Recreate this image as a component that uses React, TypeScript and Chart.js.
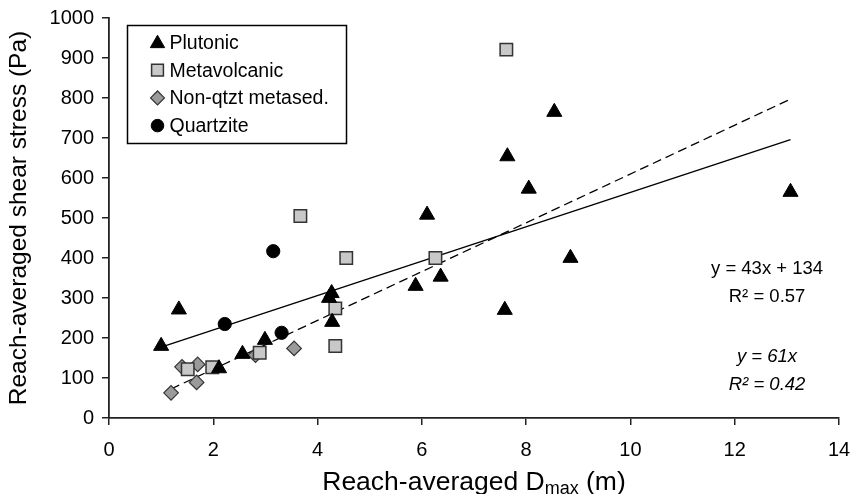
import React, { useEffect, useRef } from 'react';
import { Chart, registerables } from 'chart.js';
import { drawPoint } from 'chart.js/helpers';

Chart.register(...registerables);

// ---- data ----
const plutonicX = [1.0, 1.34, 2.11, 2.56, 2.99, 4.22, 4.27, 4.28, 5.88, 6.1, 6.36, 7.59, 7.64, 8.05, 8.54, 8.85, 13.07];
const plutonicY = [180, 271, 124, 160, 195, 300, 312, 240, 330, 508, 353, 270, 654, 573, 765, 400, 565];

const metavolcanicX = [1.51, 1.98, 2.89, 3.67, 4.34, 4.34, 4.55, 6.26, 7.62];
const metavolcanicY = [122, 127, 163, 505, 274, 180, 400, 400, 921];

const metasedX = [1.19, 1.4, 1.68, 1.7, 2.81, 3.55];
const metasedY = [63, 128, 89, 134, 157, 174];

const quartziteX = [2.22, 3.15, 3.31];
const quartziteY = [235, 417, 213];

const seriesNames = ['Plutonic', 'Metavolcanic', 'Non-qtzt metased.', 'Quartzite'];

// trend lines (from the equations shown on the chart)
const linearSlope = 43;
const linearIntercept = 134;
const linearR2 = '0.57';
const linearRange = [1.0, 13.07];

const originSlope = 61;
const originR2 = '0.42';
const originRange = [1.19, 13.07];

const xTickValues = [0, 2, 4, 6, 8, 10, 12, 14];
const yTickValues = [0, 100, 200, 300, 400, 500, 600, 700, 800, 900, 1000];

const xTitleMain = 'Reach-averaged D';
const xTitleSub = 'max';
const xTitleEnd = ' (m)';
const yTitle = 'Reach-averaged shear stress (Pa)';

const FONT = "'Liberation Sans', Arial, sans-serif";

const toPoints = (xs: number[], ys: number[]) => xs.map((x, i) => ({ x, y: ys[i] }));

const markerStyles = [
  { pointStyle: 'triangle', radius: 8.7, bg: '#000000', border: '#000000', bw: 1 },
  { pointStyle: 'rect', radius: 8.8, bg: '#c8c8c8', border: '#333333', bw: 1.5 },
  { pointStyle: 'rectRot', radius: 7.3, bg: '#9a9a9a', border: '#333333', bw: 1.2 },
  { pointStyle: 'circle', radius: 6.6, bg: '#000000', border: '#000000', bw: 1 },
];

const overlayPlugin = {
  id: 'overlay',
  afterDraw(chart: any) {
    const { ctx, chartArea, scales } = chart;
    const xs = scales.x;
    const ys = scales.y;
    ctx.save();

    // legend box
    const bx = chartArea.left + 18.5;
    const by = chartArea.top + 7.5;
    const bw = 219;
    const bh = 118;
    ctx.fillStyle = '#fff';
    ctx.fillRect(bx, by, bw, bh);
    ctx.strokeStyle = '#000';
    ctx.lineWidth = 1.5;
    ctx.strokeRect(bx, by, bw, bh);
    ctx.font = `19.5px ${FONT}`;
    ctx.textBaseline = 'middle';
    ctx.textAlign = 'left';
    seriesNames.forEach((name, i) => {
      const cy = by + 17 + i * 27.7;
      const st = markerStyles[i];
      ctx.fillStyle = st.bg;
      ctx.strokeStyle = st.border;
      ctx.lineWidth = st.bw;
      drawPoint(ctx, { pointStyle: st.pointStyle as any, radius: st.radius * 0.95, rotation: 0, borderWidth: st.bw }, bx + 30, cy + (i === 0 ? 1 : 0));
      ctx.fillStyle = '#000';
      ctx.fillText(name, bx + 42, cy + 1);
    });

    // equations
    ctx.fillStyle = '#000';
    ctx.textAlign = 'center';
    ctx.textBaseline = 'middle';
    const ex = xs.getPixelForValue(12.62);
    ctx.font = `18.5px ${FONT}`;
    ctx.fillText(`y = ${linearSlope}x + ${linearIntercept}`, ex, ys.getPixelForValue(372));
    ctx.fillText(`R\u00B2 = ${linearR2}`, ex, ys.getPixelForValue(302));
    ctx.font = `italic 18.5px ${FONT}`;
    ctx.fillText(`y = ${originSlope}x`, ex, ys.getPixelForValue(153));
    ctx.fillText(`R\u00B2 = ${originR2}`, ex, ys.getPixelForValue(82));

    // x-axis title with subscript
    const mainFont = `26.5px ${FONT}`;
    const subFont = `18px ${FONT}`;
    ctx.font = mainFont;
    const w1 = ctx.measureText(xTitleMain).width;
    const w3 = ctx.measureText(xTitleEnd).width;
    ctx.font = subFont;
    const w2 = ctx.measureText(xTitleSub).width;
    const total = w1 + w2 + w3;
    const cx = (chartArea.left + chartArea.right) / 2;
    const baseY = 490;
    let x0 = cx - total / 2;
    ctx.textAlign = 'left';
    ctx.textBaseline = 'alphabetic';
    ctx.font = mainFont;
    ctx.fillText(xTitleMain, x0, baseY);
    x0 += w1;
    ctx.font = subFont;
    ctx.fillText(xTitleSub, x0, baseY + 4);
    x0 += w2;
    ctx.font = mainFont;
    ctx.fillText(xTitleEnd, x0, baseY);

    ctx.restore();
  },
};

export default function App() {
  const ref = useRef<HTMLCanvasElement | null>(null);

  useEffect(() => {
    const canvas = ref.current;
    if (!canvas) return;
    const solidData = linearRange.map((x) => ({ x, y: linearSlope * x + linearIntercept }));
    const dashedData = originRange.map((x) => ({ x, y: originSlope * x }));
    const groups = [
      toPoints(plutonicX, plutonicY),
      toPoints(metavolcanicX, metavolcanicY),
      toPoints(metasedX, metasedY),
      toPoints(quartziteX, quartziteY),
    ];
    const scatterSets = groups.map((data, i) => ({
      type: 'scatter' as const,
      label: seriesNames[i],
      data,
      pointStyle: markerStyles[i].pointStyle as any,
      pointRadius: markerStyles[i].radius,
      pointBackgroundColor: markerStyles[i].bg,
      pointBorderColor: markerStyles[i].border,
      pointBorderWidth: markerStyles[i].bw,
      showLine: false,
    }));

    const chart = new Chart(canvas, {
      type: 'scatter',
      data: {
        datasets: [
          ...scatterSets,
          {
            type: 'line' as const,
            label: 'linear fit',
            data: solidData,
            borderColor: '#000',
            borderWidth: 1.4,
            pointRadius: 0,
            fill: false,
            tension: 0,
          },
          {
            type: 'line' as const,
            label: 'origin fit',
            data: dashedData,
            borderColor: '#000',
            borderWidth: 1.3,
            borderDash: [9, 5],
            pointRadius: 0,
            fill: false,
            tension: 0,
          },
        ] as any,
      },
      options: {
        responsive: false,
        animation: false,
        devicePixelRatio: 1,
        layout: { autoPadding: false, padding: { top: 18, right: 15, left: 0, bottom: 0 } },
        plugins: {
          legend: { display: false },
          tooltip: { enabled: false },
        },
        scales: {
          x: {
            type: 'linear',
            min: 0,
            max: 14,
            afterBuildTicks: (s: any) => {
              s.ticks = xTickValues.map((v) => ({ value: v }));
            },
            ticks: {
              color: '#000',
              font: { family: FONT, size: 20 },
              padding: 13,
              maxRotation: 0,
              callback: (v: any) => String(v),
            },
            grid: { drawOnChartArea: false, drawTicks: true, tickLength: 7, color: '#222', lineWidth: 1.5 },
            border: { color: '#222', width: 1.8 },
            afterFit: (s: any) => {
              s.height = 76;
              s.paddingLeft = 0;
              s.paddingRight = 0;
            },
          },
          y: {
            type: 'linear',
            min: 0,
            max: 1000,
            afterBuildTicks: (s: any) => {
              s.ticks = yTickValues.map((v) => ({ value: v }));
            },
            ticks: {
              color: '#000',
              font: { family: FONT, size: 20 },
              padding: 8,
              callback: (v: any) => String(v),
            },
            grid: { drawOnChartArea: false, drawTicks: true, tickLength: 7, color: '#222', lineWidth: 1.5 },
            border: { color: '#222', width: 1.8 },
            title: {
              display: true,
              text: yTitle,
              color: '#000',
              font: { family: FONT, size: 24.5 },
              padding: { top: 5, bottom: 0 },
            },
            afterFit: (s: any) => {
              s.width = 109;
              s.paddingTop = 0;
              s.paddingBottom = 0;
            },
          },
        },
      },
      plugins: [overlayPlugin],
    });
    return () => chart.destroy();
  }, []);

  return (
    <div style={{ position: 'fixed', left: 0, top: 0, width: 854, height: 494, background: '#fff' }}>
      <canvas ref={ref} width={854} height={494} style={{ width: 854, height: 494, display: 'block' }} />
    </div>
  );
}
